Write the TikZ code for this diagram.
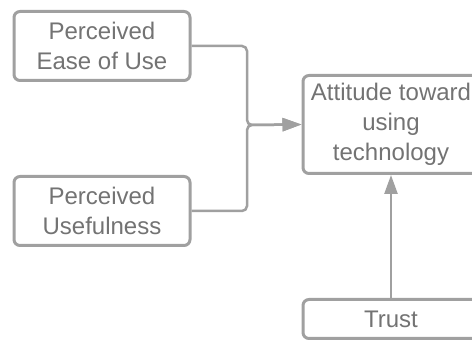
\documentclass[tikz,border=0pt]{standalone}
\usepackage{fontspec}
\setmainfont{Liberation Sans}
\usetikzlibrary{positioning, arrows.meta}
\definecolor{lineGray}{RGB}{160, 160, 160}
\definecolor{textGray}{RGB}{115, 115, 115}
\tikzset{
    tam_box/.style={
        draw=lineGray,
        line width=3pt,
        rounded corners=6pt,
        text=textGray,
        align=center,
        font=\fontsize{24}{30}\selectfont,
        inner sep=0pt,
        minimum width=176pt
    },
    tam_edge/.style={
        draw=lineGray,
        line width=2.5pt,
        rounded corners=5pt
    },
    tam_arrow/.style={
        tam_edge,
        -{Triangle[length=19pt, width=13pt]}
    }
}

\begin{document}
\begin{tikzpicture}[x=1pt, y=-1pt, node distance=93pt]
    \clip (0,0) rectangle (472,342);
    \fill[white] (0,0) rectangle (472,342);

    % left column
    \node[tam_box, minimum height=69pt] (ease) at (102,46) {Perceived\\Ease of Use};
    \node[tam_box, minimum height=69pt, below=of ease] (useful) {Perceived\\Usefulness};

    % right column, cut by the page edge
    \node[tam_box, minimum height=98pt] (attitude) at (391,124.5)
        {Attitude toward\\using\\technology};
    \node[tam_box, minimum height=39pt, below=123pt of attitude] (trust) {Trust};

    \coordinate (join) at (247,125);

    \draw[tam_arrow] (ease.east) -| (join) -- (attitude.west);
    \draw[tam_arrow] (useful.east) -| (join) -- (attitude.west);
    \draw[tam_arrow] (trust) -- (attitude);
\end{tikzpicture}
\end{document}
